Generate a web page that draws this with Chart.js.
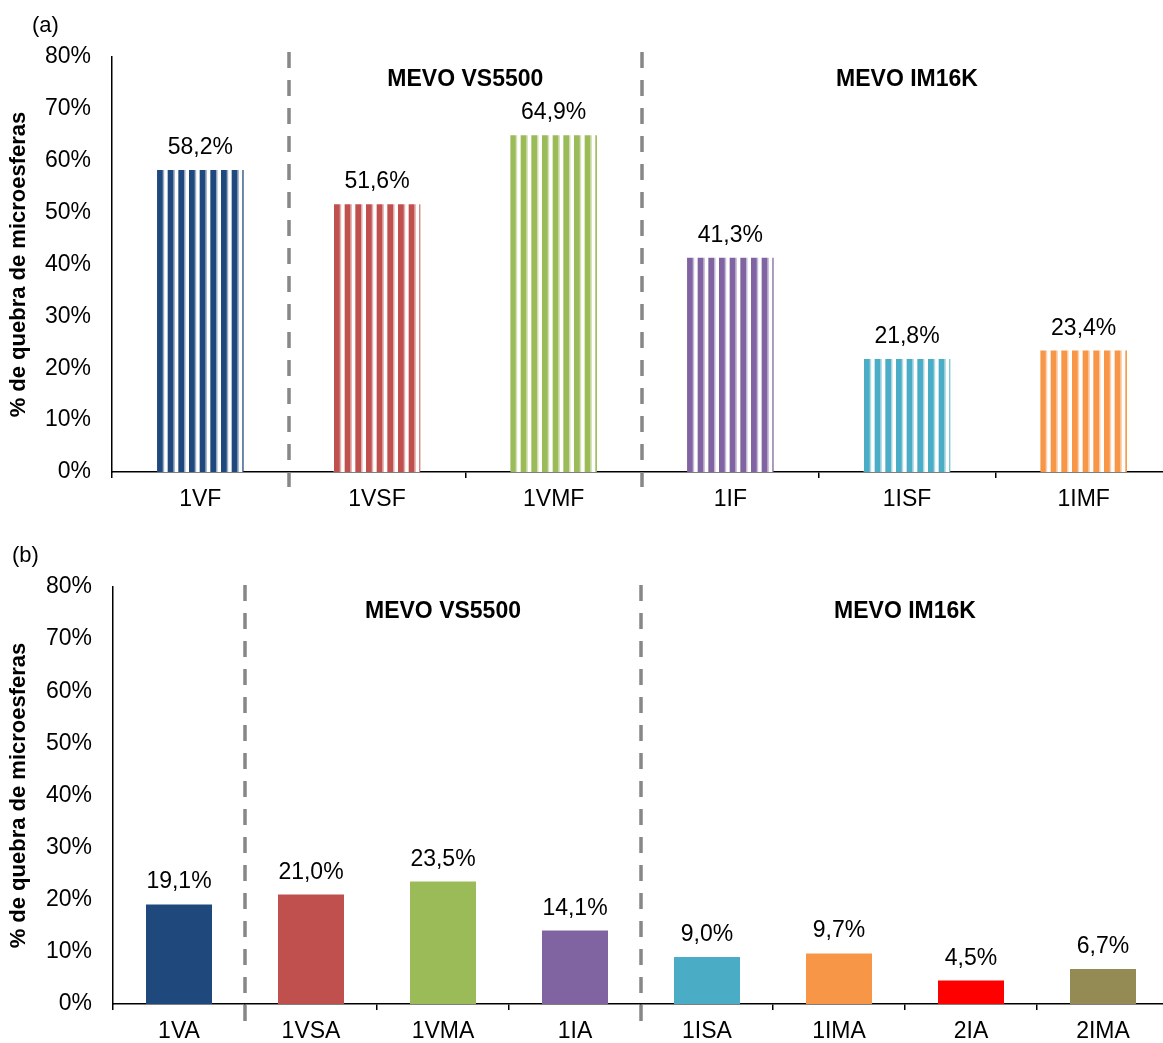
<!DOCTYPE html>
<html>
<head>
<meta charset="utf-8">
<script src="https://cdn.jsdelivr.net/npm/chart.js@4.4.1/dist/chart.umd.min.js"></script>
<style>
  html, body { margin: 0; padding: 0; background: #fff; overflow: hidden; width: 1163px; height: 1043px; }
  .panel { position: absolute; left: 0; }
  #wrapA { top: 0; }
  #wrapB { top: 525px; }
</style>
</head>
<body>
<div id="wrapA" class="panel"><canvas id="chartA" width="1180" height="520"></canvas></div>
<div id="wrapB" class="panel"><canvas id="chartB" width="1180" height="518"></canvas></div>
<script>
// ---- data -------------------------------------------------------------
const yTickValues = [0, 10, 20, 30, 40, 50, 60, 70, 80];
const yTitle = '% de quebra de microesferas';

// (a) fixed-bed samples
const labelsA = ['1VF', '1VSF', '1VMF', '1IF', '1ISF', '1IMF'];
const valuesA = [58.2, 51.6, 64.9, 41.3, 21.8, 23.4];
const colorsA = ['#1F497D', '#C0504D', '#9BBB59', '#8064A2', '#4BACC6', '#F79646'];
const dividersA = [1, 3];                       // category index where a dashed divider starts
const groupNamesA = ['MEVO VS5500', 'MEVO IM16K'];
const groupSpansA = [[1, 3], [3, 6]];

// (b) agitated samples
const labelsB = ['1VA', '1VSA', '1VMA', '1IA', '1ISA', '1IMA', '2IA', '2IMA'];
const valuesB = [19.1, 21.0, 23.5, 14.1, 9.0, 9.7, 4.5, 6.7];
const colorsB = ['#1F497D', '#C0504D', '#9BBB59', '#8064A2', '#4BACC6', '#F79646', '#FF0000', '#948A54'];
const dividersB = [1, 4];
const groupNamesB = ['MEVO VS5500', 'MEVO IM16K'];
const groupSpansB = [[1, 4], [4, 8]];

// ---- helpers ----------------------------------------------------------
const FONT = '"Liberation Sans", Arial, Helvetica, sans-serif';
const TEXT_SIZE = 23;
const fmtPct = v => v.toFixed(1).replace('.', ',') + '%';

// vertical stripe fill: coloured stripe, soft tinted edge, white gap
function stripeFill(color) {
  const c = document.createElement('canvas');
  const period = 32 / 3;
  c.width = 32; c.height = 4;
  const g = c.getContext('2d');
  g.fillStyle = '#fff';
  g.fillRect(0, 0, 32, 4);
  for (let k = 0; k < 3; k++) {
    const x0 = k * period;
    g.globalAlpha = 1;
    g.fillStyle = color;
    g.fillRect(x0, 0, 5.8, 4);
    g.globalAlpha = 0.45;
    g.fillRect(x0 + 5.8, 0, 1.4, 4);
  }
  return g.createPattern(c, 'repeat');
}

const panelDecor = {
  id: 'panelDecor',
  beforeDatasetsDraw(chart) {
    // anchor each stripe fill at its bar's left edge
    chart.getDatasetMeta(0).data.forEach(bar => {
      const fill = bar.options.backgroundColor;
      if (fill instanceof CanvasPattern) {
        fill.setTransform(new DOMMatrix().translate(Math.round(bar.x - bar.width / 2), 0));
      }
    });
  },
  afterDraw(chart, args, opts) {
    const { ctx, chartArea } = chart;
    const x = chart.scales.x;
    const step = x.getPixelForValue(1) - x.getPixelForValue(0);
    const edge = i => x.getPixelForValue(i) - step / 2;
    const ds = chart.data.datasets[0];

    ctx.save();
    // value labels above the bars
    ctx.fillStyle = '#000';
    ctx.font = `${TEXT_SIZE}px ${FONT}`;
    ctx.textAlign = 'center';
    ctx.textBaseline = 'alphabetic';
    chart.getDatasetMeta(0).data.forEach((bar, i) => {
      ctx.fillText(fmtPct(ds.data[i]), bar.x, bar.y - 16);
    });

    // dashed dividers between instrument groups
    ctx.strokeStyle = '#878787';
    ctx.lineWidth = 3.5;
    ctx.setLineDash([16, 12]);
    opts.dividers.forEach(i => {
      const px = Math.round(edge(i));
      ctx.beginPath();
      ctx.moveTo(px, opts.dashTop);
      ctx.lineTo(px, opts.dashBottom);
      ctx.stroke();
    });
    ctx.setLineDash([]);

    // group headings
    ctx.font = `bold 23px ${FONT}`;
    ctx.textBaseline = 'middle';
    opts.groupNames.forEach((name, k) => {
      const [a, b] = opts.groupSpans[k];
      const cx = (edge(a) + Math.min(edge(b), chartArea.right)) / 2;
      ctx.fillText(name, cx, opts.groupY);
    });

    // panel letter
    ctx.font = `22px ${FONT}`;
    ctx.textAlign = 'left';
    ctx.fillText(opts.letter, opts.letterX, opts.letterY);
    ctx.restore();
  }
};

function buildChart(id, labels, values, fills, cfg) {
  return new Chart(document.getElementById(id), {
    type: 'bar',
    data: {
      labels,
      datasets: [{
        data: values,
        backgroundColor: fills,
        borderWidth: 0,
        barPercentage: cfg.barPct,
        categoryPercentage: 1
      }]
    },
    options: {
      responsive: false,
      animation: false,
      events: [],
      layout: { padding: { top: cfg.padTop, right: cfg.padRight, bottom: 0, left: 0 } },
      plugins: {
        legend: { display: false },
        tooltip: { enabled: false },
        panelDecor: cfg.decor
      },
      scales: {
        x: {
          offset: true,
          grid: { display: true, offset: true, drawOnChartArea: false, drawTicks: true, tickLength: 6, color: '#000', lineWidth: 1.5 },
          border: { display: true, color: '#000', width: 1.5 },
          ticks: { color: '#000', font: { family: FONT, size: TEXT_SIZE }, padding: 8, maxRotation: 0, autoSkip: false },
          afterFit: s => { s.height = cfg.xAxisH; }
        },
        y: {
          min: 0,
          max: 80,
          grid: { display: false, drawTicks: false },
          border: { display: true, color: '#000', width: 1.5 },
          ticks: { color: '#000', font: { family: FONT, size: TEXT_SIZE }, padding: 21, callback: v => v + '%' },
          afterBuildTicks: s => { s.ticks = yTickValues.map(v => ({ value: v })); },
          title: {
            display: true,
            text: yTitle,
            color: '#000',
            font: { family: FONT, size: 22, weight: 'bold' },
            padding: { top: 6, bottom: 0 }
          },
          afterFit: s => { s.width = cfg.yAxisW; }
        }
      }
    },
    plugins: [panelDecor]
  });
}

buildChart('chartA', labelsA, valuesA, colorsA.map(stripeFill), {
  barPct: 0.49, padTop: 57, padRight: 8, xAxisH: 48, yAxisW: 112,
  decor: {
    dividers: dividersA, groupNames: groupNamesA, groupSpans: groupSpansA,
    dashTop: 52, dashBottom: 487, groupY: 80,
    letter: '(a)', letterX: 32, letterY: 26
  }
});

buildChart('chartB', labelsB, valuesB, colorsB, {
  barPct: 0.5, padTop: 62, padRight: 11, xAxisH: 39, yAxisW: 113,
  decor: {
    dividers: dividersB, groupNames: groupNamesB, groupSpans: groupSpansB,
    dashTop: 60, dashBottom: 500, groupY: 87,
    letter: '(b)', letterX: 12, letterY: 31
  }
});
</script>
</body>
</html>
